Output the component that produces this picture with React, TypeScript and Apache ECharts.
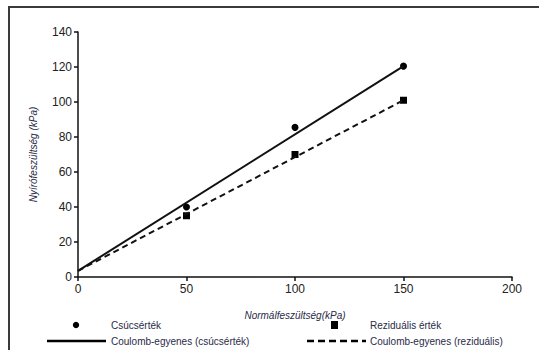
import React, { useEffect, useRef } from "react";
import * as echarts from "echarts";

// Normal stress (kPa) of the shear tests
const normalStress = [50, 100, 150];
// Peak shear stress (kPa)
const peakShear = [40, 85.5, 120.5];
// Residual shear stress (kPa)
const residualShear = [35, 70, 101];
// Coulomb lines: end points [normal stress, shear stress]
const peakLine: [number, number][] = [[0, 3.5], [150, 120.5]];
const residualLine: [number, number][] = [[0, 3.5], [150, 101]];

const xTicks = [0, 50, 100, 150, 200];
const yTicks = [0, 20, 40, 60, 80, 100, 120, 140];

const legendLabels = [
  "Csúcsérték",
  "Reziduális érték",
  "Coulomb-egyenes (csúcsérték)",
  "Coulomb-egyenes (reziduális)",
];

const textColor = "#2a2a48";
const font = "Liberation Sans, Arial, sans-serif";

export default function App() {
  const ref = useRef<HTMLDivElement>(null);

  useEffect(() => {
    if (!ref.current) return;
    const chart = echarts.init(ref.current, undefined, { renderer: "svg" });

    const legendText = (x: number, y: number, text: string) => ({
      type: "text",
      x,
      y,
      style: {
        text,
        fill: textColor,
        font: `10px ${font}`,
        textVerticalAlign: "middle",
      },
    });

    chart.setOption({
      animation: false,
      backgroundColor: "#ffffff",
      grid: { left: 78, right: 27, top: 32, bottom: 73 },
      xAxis: {
        type: "value",
        min: xTicks[0],
        max: xTicks[xTicks.length - 1],
        interval: 50,
        name: "Normálfeszültség(kPa)",
        nameLocation: "middle",
        nameGap: 33,
        nameTextStyle: { color: textColor, fontSize: 10, fontStyle: "italic", fontFamily: font },
        axisLine: { lineStyle: { color: "#111", width: 1.5 } },
        axisTick: { length: 4, lineStyle: { color: "#111", width: 1.5 } },
        axisLabel: { color: "#222", fontSize: 12, fontFamily: font, margin: 6 },
        splitLine: { show: false },
      },
      yAxis: {
        type: "value",
        min: yTicks[0],
        max: yTicks[yTicks.length - 1],
        interval: 20,
        name: "Nyírófeszültség (kPa)",
        nameLocation: "middle",
        nameGap: 40,
        nameTextStyle: { color: textColor, fontSize: 10, fontStyle: "italic", fontFamily: font },
        axisLine: { lineStyle: { color: "#111", width: 1.5 } },
        axisTick: { length: 4, lineStyle: { color: "#111", width: 1.5 } },
        axisLabel: { color: "#222", fontSize: 12, fontFamily: font, margin: 6 },
        splitLine: { show: false },
      },
      series: [
        {
          name: legendLabels[2],
          type: "line",
          data: peakLine,
          symbol: "none",
          lineStyle: { color: "#111", width: 2 },
        },
        {
          name: legendLabels[3],
          type: "line",
          data: residualLine,
          symbol: "none",
          lineStyle: { color: "#111", width: 2, type: [6, 4] },
        },
        {
          name: legendLabels[0],
          type: "scatter",
          data: normalStress.map((x, i) => [x, peakShear[i]]),
          symbol: "circle",
          symbolSize: 7,
          itemStyle: { color: "#000", opacity: 1 },
        },
        {
          name: legendLabels[1],
          type: "scatter",
          data: normalStress.map((x, i) => [x, residualShear[i]]),
          symbol: "rect",
          symbolSize: 7,
          itemStyle: { color: "#000", opacity: 1 },
        },
      ],
      graphic: [
        {
          type: "rect",
          shape: { x: 9, y: 7, width: 700, height: 500 },
          style: { fill: "none", stroke: "#3a3a3a", lineWidth: 2 },
          silent: true,
        },
        { type: "circle", shape: { cx: 76, cy: 325, r: 3.2 }, style: { fill: "#000" } },
        legendText(111, 325, legendLabels[0]),
        { type: "rect", shape: { x: 331, y: 321, width: 7, height: 8 }, style: { fill: "#000" } },
        legendText(370, 325, legendLabels[1]),
        {
          type: "line",
          shape: { x1: 47, y1: 341, x2: 106, y2: 341 },
          style: { stroke: "#000", lineWidth: 2.5 },
        },
        legendText(111, 341, legendLabels[2]),
        {
          type: "line",
          shape: { x1: 307, y1: 341, x2: 366, y2: 341 },
          style: { stroke: "#000", lineWidth: 2.5, lineDash: [7, 4] },
        },
        legendText(370, 341, legendLabels[3]),
      ],
    });

    return () => chart.dispose();
  }, []);

  return (
    <div
      ref={ref}
      style={{ position: "fixed", left: 0, top: 0, width: 539, height: 350, background: "#fff" }}
    />
  );
}
